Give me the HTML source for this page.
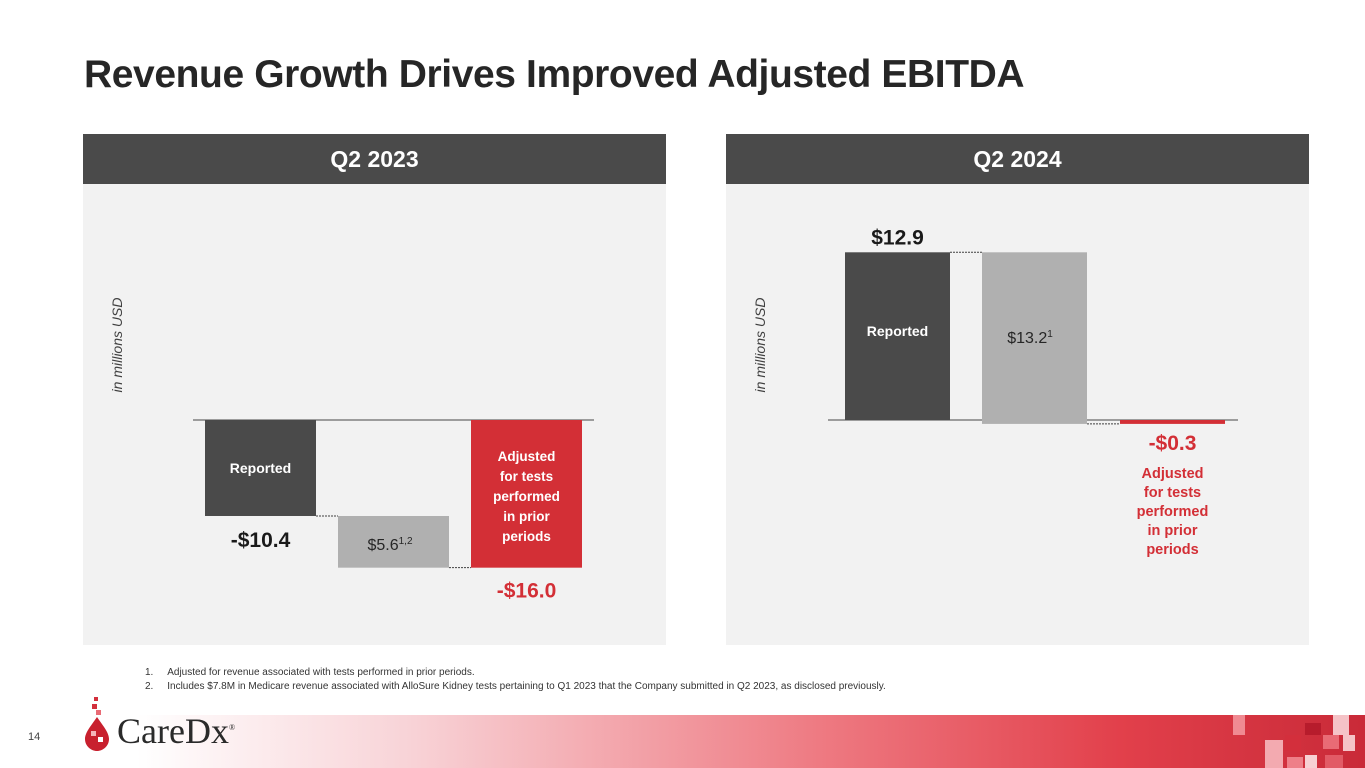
<!DOCTYPE html>
<html><head><meta charset="utf-8">
<style>
body{margin:0;width:1365px;height:768px;position:relative;background:#fff;font-family:"Liberation Sans",sans-serif;overflow:hidden}
.t{position:absolute;left:84px;top:53px;font-size:39px;font-weight:bold;color:#262626;letter-spacing:-0.4px}
.hd{position:absolute;top:134px;height:50px;background:#4a4a4a;color:#fff;font-size:23px;font-weight:bold;text-align:center;line-height:50px;width:583px}
.pn{position:absolute;top:184px;height:461px;background:#f2f2f2;width:583px}
.fn{position:absolute;left:145px;font-size:10px;color:#333}
</style></head><body>
<div class="t">Revenue Growth Drives Improved Adjusted EBITDA</div>
<div class="hd" style="left:83px">Q2 2023</div>
<div class="hd" style="left:726px">Q2 2024</div>
<div class="pn" style="left:83px"></div>
<div class="pn" style="left:726px"></div>
<svg id="ch" width="1365" height="768" style="position:absolute;left:0;top:0"></svg>
<div class="fn" style="top:667px">1.&nbsp;&nbsp;&nbsp;&nbsp;&nbsp;Adjusted for revenue associated with tests performed in prior periods.</div>
<div class="fn" style="top:681px">2.&nbsp;&nbsp;&nbsp;&nbsp;&nbsp;Includes $7.8M in Medicare revenue associated with AlloSure Kidney tests pertaining to Q1 2023 that the Company submitted in Q2 2023, as disclosed previously.</div>
<div style="position:absolute;left:0;top:715px;width:1365px;height:53px;background:linear-gradient(90deg,#fff 0%,#fff 10%,#f8d3d7 30%,#ee7a82 60%,#e2404b 82%,#c92a38 100%)"></div>
<svg width="160" height="53" style="position:absolute;left:1205px;top:715px">
<rect x="28" y="0" width="12" height="20" fill="#f08a92"/><rect x="60" y="25" width="18" height="28" fill="#f3aab0"/>
<rect x="80" y="20" width="16" height="16" fill="#d32f3c"/><rect x="100" y="40" width="12" height="13" fill="#f7d0d3"/>
<rect x="100" y="8" width="16" height="12" fill="#b71c2c"/><rect x="128" y="0" width="16" height="20" fill="#f5c3c7"/>
<rect x="138" y="20" width="12" height="16" fill="#f5c3c7"/><rect x="118" y="20" width="16" height="14" fill="#e96b75"/>
<rect x="82" y="42" width="16" height="11" fill="#ee7f88"/><rect x="120" y="40" width="18" height="13" fill="#e25b66"/>
</svg>
<div style="position:absolute;left:28px;top:731px;font-size:11px;color:#444">14</div>
<svg width="30" height="60" style="position:absolute;left:82px;top:695px">
<rect x="12" y="2" width="4" height="4" fill="#d32f3c"/><rect x="10" y="9" width="5" height="5" fill="#d32f3c"/>
<rect x="14" y="15" width="5" height="5" fill="#e96b75"/><path d="M15 22 C8 32,3 38,3 44 C3 51,9 56,15 56 C21 56,27 51,27 44 C27 38,22 32,15 22Z" fill="#c8202e"/>
<rect x="9" y="36" width="5" height="5" fill="#f4b4b9"/><rect x="16" y="42" width="5" height="5" fill="#fff"/>
</svg>
<div style="position:absolute;left:117px;top:710px;font-family:'Liberation Serif',serif;font-size:36px;color:#2a2a2a">CareDx<sup style="font-size:8px">®</sup></div>
<script>
const q23Values=[-10.4,5.6,-16.0];
const q24Values=[12.9,13.2,-0.3];
const q23Labels=["-$10.4","$5.6","-$16.0"];
const q24Labels=["$12.9","$13.2","-$0.3"];
const NS="http://www.w3.org/2000/svg";
const svg=document.getElementById('ch');
function mk(t,a,p){const e=document.createElementNS(NS,t);for(const k in a)e.setAttribute(k,a[k]);(p||svg).appendChild(e);return e;}
function txt(x,y,lines,size,color,bold,lh,name){const t=mk('text',{x:x,y:y,'text-anchor':'middle','font-size':size,fill:color,'font-weight':bold?'bold':'normal','font-family':'Liberation Sans, sans-serif'});


lines.forEach((l,i)=>{const s=mk('tspan',{x:x,dy:i?lh:0},t);s.textContent=l;});return t;}
function chart(vals,labels,zeroY,scale,xs,w,axL,axR,ylabX,id){
  const y=v=>zeroY-v*scale;
  mk('line',{x1:axL,x2:axR,y1:zeroY,y2:zeroY,stroke:'#7f7f7f','stroke-width':1.5});
  const v0=vals[0],cols=['#4a4a4a','#b0b0b0','#d32f36'];
  const spans=[[0,v0],[v0,vals[2]],[0,vals[2]]];
  spans.forEach((s,i)=>{let a=y(s[0]),b=y(s[1]);if(i==1&&id=='q24'){a=y(vals[0]);b=y(vals[0]-vals[1]);}
    const r=mk('rect',{x:xs[i],y:Math.min(a,b),width:w,height:Math.max(Math.abs(b-a),1),fill:cols[i]});
    
    });
  let e1=id=='q24'?y(vals[0]):y(v0), e2=id=='q24'?y(vals[0]-vals[1]):y(vals[2]);
  mk('line',{x1:xs[0]+w,x2:xs[1],y1:e1,y2:e1,stroke:'#404040','stroke-dasharray':'2,1'});
  mk('line',{x1:xs[1]+w,x2:xs[2],y1:e2,y2:e2,stroke:'#404040','stroke-dasharray':'2,1'});
  const yl=txt(0,0,['in millions USD'],14,'#404040',false,0,id+'-y-axis-title');
  yl.setAttribute('font-style','italic');yl.setAttribute('transform','translate('+ylabX+',345) rotate(-90)');
  return y;
}
const ya=chart(q23Values,q23Labels,420,9.23,[205,338,471],111,193,594,122,'q23');
txt(260.5,ya(q23Values[0])/2+ya(0)/2+5,['Reported'],14,'#fff',true,0,'q23-reported-label');
txt(260.5,ya(q23Values[0])+31,[q23Labels[0]],21,'#1a1a1a',true,0,'q23-reported-value');
const g=txt(390,ya(q23Values[0])+34,[q23Labels[1]],16,'#262626',false,0,'q23-adjustment-value');
const sp=mk('tspan',{dy:-6,'font-size':10},g);sp.textContent='1,2';
txt(526.5,461,['Adjusted','for tests','performed','in prior','periods'],13.5,'#fff',true,20,'q23-adjusted-label');
txt(526.5,ya(q23Values[2])+30,[q23Labels[2]],21,'#d32f36',true,0,'q23-adjusted-value');
const yb=chart(q24Values,q24Labels,420,13.0,[845,982,1120],105,828,1238,765,'q24');
txt(897.5,yb(q24Values[0])-8,[q24Labels[0]],21,'#1a1a1a',true,0,'q24-reported-value');
txt(897.5,336,['Reported'],14,'#fff',true,0,'q24-reported-label');
const g2=txt(1030,343,[q24Labels[1]],16,'#262626',false,0,'q24-adjustment-value');
const sp2=mk('tspan',{dy:-6,'font-size':10},g2);sp2.textContent='1';
txt(1172.5,yb(q24Values[2])+26,[q24Labels[2]],21,'#d32f36',true,0,'q24-adjusted-value');
txt(1172.5,478,['Adjusted','for tests','performed','in prior','periods'],14.5,'#d32f36',true,19,'q24-adjusted-label');
</script>
</body></html>
